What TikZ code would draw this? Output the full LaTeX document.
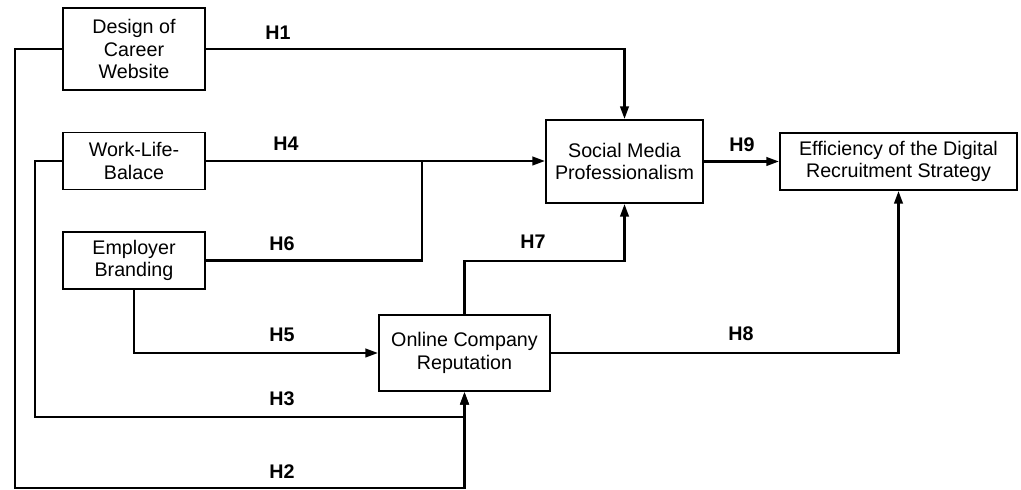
\documentclass[tikz,border=0pt]{standalone}
\usepackage{fontspec}
\setmainfont{Liberation Sans}
\usetikzlibrary{arrows.meta}
\tikzset{
	boite/.style={draw, line width=1.3pt, align=center, inner sep=2pt,
		font=\fontsize{14}{16}\selectfont},
	fleche/.style={line width=1.8pt, -{Triangle[length=9pt, width=6pt]}},
	hyp/.style={font=\fontsize{14}{16}\selectfont\bfseries}
}
\begin{document}
\begin{tikzpicture}[x=0.025cm, y=-0.025cm]
	\useasboundingbox (0,0) rectangle (1021,490);
	% les boites
	\node[boite, minimum width=3.55cm, minimum height=2.05cm] (design) at (134,49) {Design of\\Career\\Website};
	\node[boite, minimum width=3.55cm, minimum height=1.425cm] (wlb) at (134,161) {Work-Life-\\Balace};
	\node[boite, minimum width=3.55cm, minimum height=1.425cm] (eb) at (134,260.5) {Employer\\Branding};
	\node[boite, minimum width=3.925cm, minimum height=2.075cm] (smp) at (624.5,161.5) {Social Media\\Professionalism};
	\node[boite, minimum width=5.925cm, minimum height=1.425cm] (edrs) at (898.5,161.5) {Efficiency of the Digital\\Recruitment Strategy};
	\node[boite, minimum width=4.275cm, minimum height=1.9cm] (ocr) at (464.5,353) {Online Company\\Reputation};
	% les points de passage
	\coordinate (jonction) at (422,161);
	\coordinate (coude) at (464.5,261);
	\coordinate (g3) at (35,417);
	\coordinate (g2) at (15,488);
	% les fleches
	\draw[fleche] (design.east) -| (smp.north);
	\draw[fleche] (wlb.east) -- (wlb.east -| smp.west);
	\draw[line width=1.8pt] (eb.east) -| (jonction);
	\draw[fleche] (eb.south) |- (ocr.west);
	\draw[fleche] (ocr.north) -- (coude) -| (smp.south);
	\draw[fleche] (ocr.east) -| (edrs.south);
	\draw[fleche] (smp.east) -- (edrs.west);
	\draw[fleche] (wlb.west) -| (g3) -| (ocr.south);
	\draw[fleche] (design.west) -| (g2) -| (ocr.south);
	% les hypotheses
	\node[hyp] (h1) at (278,33) {H1};
	\node[hyp] (h4) at (286,144) {H4};
	\node[hyp] (h6) at (282,244) {H6};
	\node[hyp] (h5) at (282,335) {H5};
	\node[hyp] (h3) at (282,399) {H3};
	\node[hyp] (h2) at (282,472) {H2};
	\node[hyp] (h7) at (533,242) {H7};
	\node[hyp] (h9) at (742,145) {H9};
	\node[hyp] (h8) at (741,334) {H8};
\end{tikzpicture}
\end{document}
